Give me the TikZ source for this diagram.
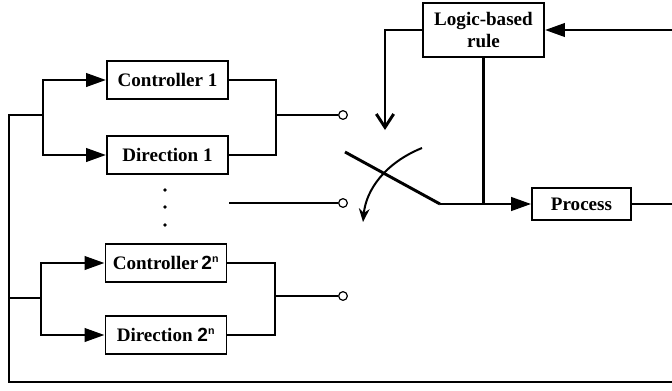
\documentclass[tikz,border=0pt]{standalone}
\usepackage{fontspec}
\setmainfont{Liberation Serif}
\setsansfont{Liberation Sans}
\usetikzlibrary{arrows.meta}

\begin{document}
\begin{tikzpicture}[x=0.75pt,y=-0.75pt,
  blk/.style={draw=black, rectangle, line width=1.4pt, inner sep=0pt, minimum width=90.75pt, minimum height=28.5pt, font=\bfseries\fontsize{14.3}{16}\selectfont},
  wire/.style={line width=2.2pt},
  tri/.style={-{Triangle[length=15pt,width=10pt]}},
  contact/.style={draw=black, circle, line width=0.9pt, fill=white, minimum size=6.5pt, inner sep=0pt}]
\useasboundingbox (0,0) rectangle (672,390);
\node[blk] (C1) at (167.5,80) {Controller 1};
\node[blk] (D1) at (167.5,155) {Direction 1};
\node[blk] (CN) at (166,263) {Controller\,{\sffamily 2\textsuperscript{\footnotesize n}}};
\node[blk] (DN) at (166,335) {Direction {\sffamily 2\textsuperscript{\footnotesize n}}};
\node[blk, minimum height=40.5pt, align=center] (R) at (483.5,30) {Logic-based\\rule};
\node[blk, minimum width=74pt, minimum height=24pt] (P) at (581.5,204) {Process};
\node[contact] (K1) at (343,115) {};
\node[contact] (K2) at (343,203) {};
\node[contact] (K3) at (343,296) {};
\coordinate (T) at (9,115);
\coordinate (B) at (9,382);
\coordinate (E) at (672,382);
\coordinate (S1) at (43,115);
\coordinate (S2) at (41,298);
\coordinate (M1) at (276,115);
\coordinate (M2) at (275,296);
\coordinate (M0) at (229,203);
\coordinate (W) at (345,152);
\coordinate (V) at (440,204);
\coordinate (F) at (385,130);
\coordinate (FT) at (672,30);
\coordinate (FP) at (672,204);
\coordinate (A1) at (422,148);
\coordinate (A2) at (363,222);
\draw[wire] (E) -- (B) -- (T) -- (S1);
\draw[wire] (B |- S2) -- (S2);
\draw[wire, tri] (S1) |- (C1);
\draw[wire, tri] (S1) |- (D1);
\draw[wire, tri] (S2) |- (CN);
\draw[wire, tri] (S2) |- (DN);
\draw[wire] (C1) -| (M1) |- (D1);
\draw[wire] (CN) -| (M2) |- (DN);
\draw[wire] (M1) -- (K1);
\draw[wire] (M2) -- (K3);
\draw[wire] (M0) -- (K2);
\foreach \y in {190,207,225} \fill (165,\y) circle (1.8);
\draw[wire] (W) -- (V);
\draw[wire, tri] (V) -- (P);
\draw[wire] (R) -- (R |- V);
\draw[wire, -{Straight Barb[length=10pt,width=13pt]}] (R) -| (F);
\draw[wire, tri] (FT) -- (R);
\draw[wire] (P) -- (FP);
\draw[line width=1.5pt, -{Stealth[length=10pt,width=8pt]}] (A1) .. controls (385,163) and (366,190) .. (A2);
\end{tikzpicture}
\end{document}
